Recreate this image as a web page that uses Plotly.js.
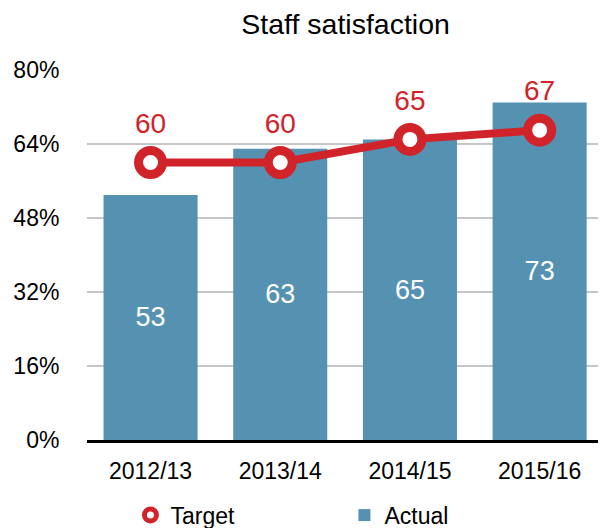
<!DOCTYPE html>
<html>
<head>
<meta charset="utf-8">
<script src="https://cdn.plot.ly/plotly-3.0.1.min.js"></script>
<style>html,body{margin:0;padding:0;background:#fff;}#chart{width:601px;height:528px;}</style>
</head>
<body>
<div id="chart"></div>
<script>
var categories = ['2012/13', '2013/14', '2014/15', '2015/16'];
var actual = [53, 63, 65, 73];
var target = [60, 60, 65, 67];
var yTicks = [0, 16, 32, 48, 64, 80];
var yTickText = yTicks.map(function (v) { return v + '%'; });

var RED = '#d0232a';
var BLUE = '#5592b2';
var FONT = 'Liberation Sans, Arial, Helvetica, sans-serif';

var traces = [
  {
    type: 'bar', name: 'Actual', x: categories, y: actual,
    marker: {color: BLUE}, width: 0.725,
    text: actual.map(String), textposition: 'inside', insidetextanchor: 'middle',
    textangle: 0, textfont: {color: '#ffffff', size: 27, family: FONT},
    legendrank: 2, hoverinfo: 'x+y'
  },
  {
    type: 'scatter', mode: 'lines+markers', name: 'Target', x: categories, y: target,
    line: {color: RED, width: 8},
    marker: {symbol: 'circle', size: 24, color: '#ffffff', line: {color: RED, width: 9}},
    showlegend: false, cliponaxis: false
  },
  {
    type: 'scatter', mode: 'markers+text', name: 'Target labels', x: categories, y: target,
    marker: {symbol: 'circle', size: 35, color: 'rgba(0,0,0,0)', line: {width: 0}},
    text: target.map(String), textposition: 'top center',
    textfont: {color: RED, size: 28, family: FONT},
    showlegend: false, cliponaxis: false, hoverinfo: 'skip'
  },
  {
    type: 'scatter', mode: 'markers', name: 'Target', x: [null], y: [null],
    marker: {symbol: 'circle', size: 12, color: '#ffffff', line: {color: RED, width: 5}},
    legendrank: 1, showlegend: true
  }
];

var layout = {
  width: 601, height: 528,
  margin: {l: 87, r: 3, t: 70, b: 88, autoexpand: false},
  paper_bgcolor: '#ffffff', plot_bgcolor: '#ffffff',
  font: {family: FONT, color: '#000000', size: 23},
  title: {text: 'Staff satisfaction', font: {size: 28.5, color: '#000000', family: FONT}, x: 0.575, xanchor: 'center', y: 0.955, yanchor: 'middle'},
  showlegend: true,
  legend: {orientation: 'h', x: 0.085, xanchor: 'left', y: -0.145, yanchor: 'top',
           font: {size: 23, family: FONT}, entrywidth: 169, entrywidthmode: 'pixels', traceorder: 'normal'},
  bargap: 0.275,
  xaxis: {
    type: 'category', range: [-0.49, 3.45], fixedrange: true,
    showline: true, linecolor: '#000000', linewidth: 3,
    ticks: 'outside', ticklen: 8, tickcolor: 'rgba(0,0,0,0)',
    showgrid: false, zeroline: false,
    tickfont: {size: 23, family: FONT}
  },
  yaxis: {
    range: [0, 80], tickmode: 'array', tickvals: yTicks, ticktext: yTickText, fixedrange: true,
    showgrid: true, gridcolor: '#c6c6c6', gridwidth: 1.5,
    zeroline: false, showline: false,
    ticks: 'outside', ticklen: 22, tickcolor: 'rgba(0,0,0,0)',
    tickfont: {size: 23, family: FONT}
  }
};

Plotly.newPlot('chart', traces, layout, {displayModeBar: false, staticPlot: true});
</script>
</body>
</html>
